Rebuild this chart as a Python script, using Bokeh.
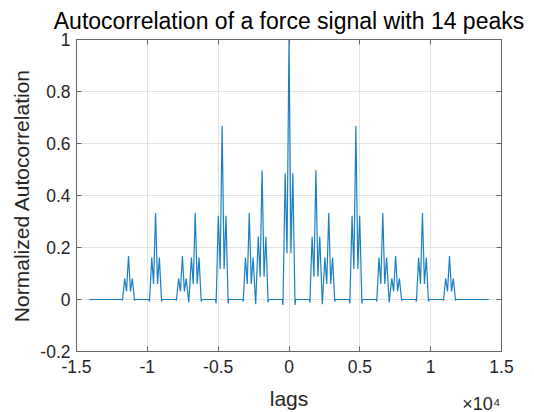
from bokeh.plotting import figure
from bokeh.models import FixedTicker, LinearAxis, Range1d, Title
from bokeh.embed import file_html
from bokeh.resources import INLINE

# Normalized autocorrelation, as a polyline of (lag, value) vertices
lags = [
    -14100,
    -11800, -11755, -11600, -11470, -11330, -11190, -11060, -10905, -10860,
    -9890, -9845, -9690, -9560, -9420, -9280, -9150, -8995, -8950,
    -7995, -7950, -7795, -7665, -7525, -7385, -7255, -7072,
    -6890, -6760, -6620, -6480, -6350, -6195, -6150,
    -5190, -5145, -4990, -4860, -4720, -4580, -4450, -4295, -4250,
    -3275, -3230, -3075, -2945, -2805, -2665, -2535, -2352,
    -2170, -2040, -1900, -1760, -1630, -1475, -1430,
    -470, -425, -270, -140, 0, 140, 270, 425, 470,
    1430, 1475, 1630, 1760, 1900, 2040, 2170, 2352,
    2535, 2665, 2805, 2945, 3075, 3230, 3275,
    4250, 4295, 4450, 4580, 4720, 4860, 4990, 5145, 5190,
    6150, 6195, 6350, 6480, 6620, 6760, 6890, 7072,
    7255, 7385, 7525, 7665, 7795, 7950, 7995,
    8950, 8995, 9150, 9280, 9420, 9560, 9690, 9845, 9890,
    10860, 10905, 11060, 11190, 11330, 11470, 11600, 11755, 11800,
    14100,
]
acorr = [
    0.0,
    0.0, -0.004, 0.081, 0.031, 0.167, 0.031, 0.081, -0.004, 0.0,
    0.0, -0.008, 0.161, 0.060, 0.333, 0.060, 0.161, -0.008, 0.0,
    0.0, -0.004, 0.081, 0.031, 0.167, 0.031, 0.081, -0.011,
    0.161, 0.060, 0.333, 0.060, 0.161, -0.008, 0.0,
    0.0, -0.015, 0.322, 0.117, 0.667, 0.117, 0.322, -0.015, 0.0,
    0.0, -0.008, 0.161, 0.060, 0.333, 0.060, 0.161, -0.018,
    0.242, 0.088, 0.497, 0.088, 0.242, -0.011, 0.0,
    0.0, -0.021, 0.486, 0.178, 1.0, 0.178, 0.486, -0.021, 0.0,
    0.0, -0.011, 0.242, 0.088, 0.497, 0.088, 0.242, -0.018,
    0.161, 0.060, 0.333, 0.060, 0.161, -0.008, 0.0,
    0.0, -0.015, 0.322, 0.117, 0.667, 0.117, 0.322, -0.015, 0.0,
    0.0, -0.008, 0.161, 0.060, 0.333, 0.060, 0.161, -0.011,
    0.081, 0.031, 0.167, 0.031, 0.081, -0.004, 0.0,
    0.0, -0.008, 0.161, 0.060, 0.333, 0.060, 0.161, -0.008, 0.0,
    0.0, -0.004, 0.081, 0.031, 0.167, 0.031, 0.081, -0.004, 0.0,
    0.0,
]

x_ticks = [-15000, -10000, -5000, 0, 5000, 10000, 15000]
x_tick_labels = ["-1.5", "-1", "-0.5", "0", "0.5", "1", "1.5"]
y_ticks = [-0.2, 0.0, 0.2, 0.4, 0.6, 0.8, 1.0]
y_tick_labels = ["-0.2", "0", "0.2", "0.4", "0.6", "0.8", "1"]
x_exponent = "×10⁴"

FONT = "Liberation Sans"
AXIS_COLOR = "#666666"
TEXT_COLOR = "#262626"

p = figure(
    width=534, height=412,
    x_range=Range1d(-15000, 15000), y_range=Range1d(-0.2, 1.0),
    output_backend="svg", toolbar_location=None,
    min_border_left=76, min_border_right=33,
    min_border_top=39, min_border_bottom=61,
    title="Autocorrelation of a force signal with 14 peaks",
    x_axis_label="lags", y_axis_label="Normalized Autocorrelation",
)
p.background_fill_color = "white"
p.border_fill_color = "white"
p.outline_line_color = AXIS_COLOR
p.outline_line_width = 1

p.title.text_font = FONT
p.title.text_font_size = "23px"
p.title.text_font_style = "normal"
p.title.text_color = "black"
p.title.align = "center"
p.title.standoff = 11

p.line(lags, acorr, line_color="#0072BD", line_width=1.2, line_alpha=0.9)


def style_axis(ax, ticks, labels=None, show_labels=True):
    ax.ticker = FixedTicker(ticks=ticks)
    if labels is not None:
        ax.major_label_overrides = dict(zip(ticks, labels))
    ax.axis_line_color = AXIS_COLOR
    ax.major_tick_line_color = AXIS_COLOR
    ax.major_tick_in = 5
    ax.major_tick_out = 0
    ax.minor_tick_line_color = None
    ax.major_label_text_font = FONT
    ax.major_label_text_color = TEXT_COLOR
    if show_labels:
        ax.major_label_text_font_size = "17.5px"
    else:
        ax.major_label_text_font_size = "1px"
        ax.major_label_text_alpha = 0
        ax.major_label_standoff = 0


xa = p.xaxis[0]
style_axis(xa, x_ticks, x_tick_labels)
xa.major_label_standoff = 8
xa.axis_label_text_font = FONT
xa.axis_label_text_font_size = "21px"
xa.axis_label_text_font_style = "normal"
xa.axis_label_text_color = TEXT_COLOR
xa.axis_label_standoff = 11

ya = p.yaxis[0]
style_axis(ya, y_ticks, y_tick_labels)
ya.major_label_standoff = 6
ya.axis_label_text_font = FONT
ya.axis_label_text_font_size = "21px"
ya.axis_label_text_font_style = "normal"
ya.axis_label_text_color = TEXT_COLOR
ya.axis_label_standoff = 4

top_axis = LinearAxis()
style_axis(top_axis, x_ticks, show_labels=False)
p.add_layout(top_axis, "above")
right_axis = LinearAxis()
style_axis(right_axis, y_ticks, show_labels=False)
p.add_layout(right_axis, "right")

p.xgrid.ticker = FixedTicker(ticks=x_ticks)
p.ygrid.ticker = FixedTicker(ticks=y_ticks)
p.xgrid.grid_line_color = "#e3e3e3"
p.ygrid.grid_line_color = "#e3e3e3"

# Exponent marker for the lag axis, pulled up onto the axis-label row
p.add_layout(Title(text=x_exponent, align="right", vertical_align="top",
                   offset=1, standoff=-38,
                   text_font=FONT, text_font_size="18px",
                   text_font_style="normal", text_color=TEXT_COLOR), "below")

open("out.html", "w").write(file_html(p, INLINE))
